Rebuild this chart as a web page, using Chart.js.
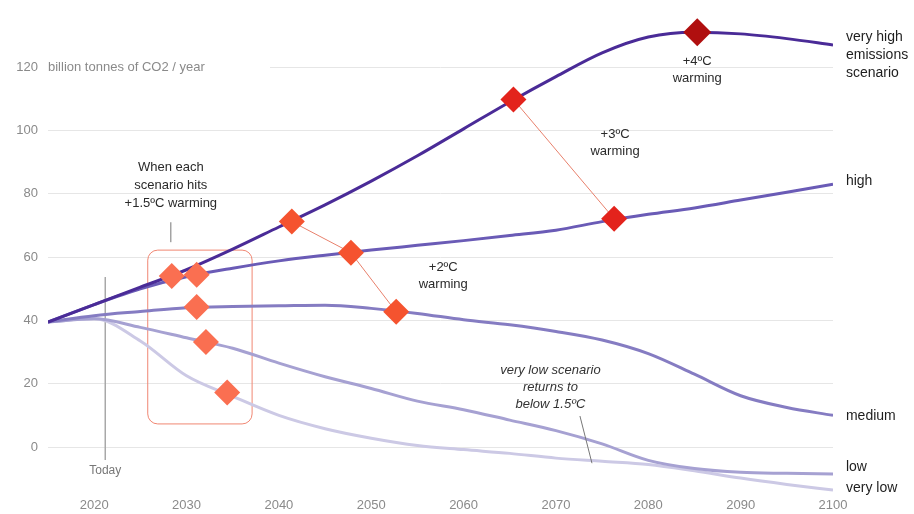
<!DOCTYPE html>
<html>
<head>
<meta charset="utf-8">
<script src="https://cdn.jsdelivr.net/npm/chart.js@4.4.1/dist/chart.umd.min.js"></script>
<style>
  html, body { margin: 0; padding: 0; background: #fff; }
  #wrap { width: 914px; height: 514px; }
</style>
</head>
<body>
<div id="wrap"><canvas id="co2-chart" width="914" height="514"></canvas></div>
<script>
// years for every scenario curve
const years = [2015, 2020, 2025, 2030, 2035, 2040, 2045, 2050, 2055, 2060, 2065, 2070, 2075, 2080, 2085, 2090, 2095, 2100];

// billion tonnes of CO2 / year
const veryHigh = [39.5, 45, 50.5, 56, 62.5, 69.5, 76.5, 84, 92, 100.5, 109, 117, 124.5, 129.5, 131, 130.5, 129, 127];
const high     = [39.5, 45, 50, 53.8, 56.5, 58.8, 60.6, 62.2, 63.7, 65.2, 66.8, 68.5, 71.2, 73.5, 75.5, 78, 80.5, 83];
const medium   = [39.5, 41.5, 42.8, 44, 44.4, 44.6, 44.8, 43.8, 42.2, 40.2, 38.6, 36.5, 33.8, 29.5, 23, 16.2, 12.5, 10];
const low      = [39.5, 40.5, 37.8, 34.5, 31.2, 26.5, 22.2, 18.5, 14.5, 11.8, 8.5, 5.2, 1, -4.2, -6.8, -8, -8.3, -8.5];
const veryLow  = [39.5, 40.5, 33.5, 22.5, 16, 10, 5.8, 2.8, 0.5, -0.8, -2, -3.5, -4.5, -5.5, -7.5, -9.8, -11.8, -13.6];

// when each scenario hits a warming level
const hit15Years = [2028.4, 2031.1, 2031.1, 2032.1, 2034.4];
const hit15Values = [54, 54.4, 44.2, 33.2, 17.2];
const hit2Years = [2041.4, 2047.8, 2052.7];
const hit2Values = [71.2, 61.4, 42.7];
const hit3Years = [2065.4, 2076.3];
const hit3Values = [109.8, 72.1];
const hit4Years = [2085.3];
const hit4Values = [131];

const xTicks = [2020, 2030, 2040, 2050, 2060, 2070, 2080, 2090, 2100];
const yTicks = [0, 20, 40, 60, 80, 100, 120];

const FONT = '"Liberation Sans", Arial, Helvetica, sans-serif';

function pts(xs, ys) {
    return xs.map((x, i) => ({ x: x, y: ys[i] }));
}

function scenario(label, values, color, order) {
    return {
        label: label,
        data: pts(years, values),
        borderColor: color,
        borderWidth: 3,
        pointRadius: 0,
        fill: false,
        cubicInterpolationMode: 'monotone',
        order: order
    };
}

function diamonds(label, xs, ys, color, r) {
    return {
        label: label,
        data: pts(xs, ys),
        showLine: false,
        pointStyle: 'rectRot',
        pointRadius: r,
        pointBackgroundColor: color,
        pointBorderWidth: 0,
        order: 0
    };
}

function connector(xs, ys) {
    return {
        label: 'link',
        data: pts(xs, ys),
        borderColor: '#e8806c',
        borderWidth: 1,
        pointRadius: 0,
        tension: 0,
        order: 1
    };
}

// text and notes drawn around the plot
const notesPlugin = {
    id: 'notes',
    beforeDatasetsDraw(chart) {
        const ctx = chart.ctx;
        const x = chart.scales.x, y = chart.scales.y;
        ctx.save();
        // box around the 1.5C diamonds
        const bx0 = x.getPixelForValue(2025.8), bx1 = x.getPixelForValue(2037.1);
        const by0 = y.getPixelForValue(62.2), by1 = y.getPixelForValue(7.3);
        ctx.strokeStyle = '#f08672';
        ctx.lineWidth = 1;
        ctx.beginPath();
        ctx.roundRect(bx0, by0, bx1 - bx0, by1 - by0, 10);
        ctx.stroke();
        // today line
        ctx.strokeStyle = '#a8a8a8';
        ctx.lineWidth = 1.5;
        const tx = x.getPixelForValue(2021.2);
        ctx.beginPath();
        ctx.moveTo(tx, y.getPixelForValue(53.7));
        ctx.lineTo(tx, y.getPixelForValue(-4.1));
        ctx.stroke();
        ctx.restore();
    },
    afterDraw(chart) {
        const ctx = chart.ctx;
        const x = chart.scales.x, y = chart.scales.y;
        const area = chart.chartArea;
        ctx.save();

        // unit label sitting on the 120 gridline
        ctx.font = '13px ' + FONT;
        ctx.fillStyle = '#fff';
        ctx.fillRect(area.left - 4, y.getPixelForValue(120) - 10, 226, 20);
        ctx.fillStyle = '#8a8a8a';
        ctx.textAlign = 'left';
        ctx.textBaseline = 'middle';
        ctx.fillText('billion tonnes of CO2 / year', area.left, y.getPixelForValue(120));

        function block(lines, yr, val, step, font, color, align) {
            ctx.font = font;
            ctx.fillStyle = color;
            ctx.textAlign = align || 'center';
            ctx.textBaseline = 'middle';
            const px = x.getPixelForValue(yr);
            const py = y.getPixelForValue(val);
            lines.forEach((t, i) => ctx.fillText(t, px, py + i * step));
        }

        const note = '13px ' + FONT;
        block(['When each', 'scenario hits', '+1.5ºC warming'], 2028.3, 88.4, 18, note, '#2a2a2a');
        block(['+2ºC', 'warming'], 2057.8, 56.8, 17, note, '#2a2a2a');
        block(['+3ºC', 'warming'], 2076.4, 98.8, 17, note, '#2a2a2a');
        block(['+4ºC', 'warming'], 2085.3, 121.9, 17, note, '#2a2a2a');
        block(['very low scenario', 'returns to', 'below 1.5ºC'], 2069.4, 24.3, 17, 'italic 13px ' + FONT, '#333');
        block(['Today'], 2021.2, -7.6, 0, '12px ' + FONT, '#777');

        // small pointer lines
        ctx.strokeStyle = '#777';
        ctx.lineWidth = 1;
        ctx.beginPath();
        ctx.moveTo(x.getPixelForValue(2028.3), y.getPixelForValue(71));
        ctx.lineTo(x.getPixelForValue(2028.3), y.getPixelForValue(64.7));
        ctx.moveTo(x.getPixelForValue(2072.6), y.getPixelForValue(9.8));
        ctx.lineTo(x.getPixelForValue(2073.9), y.getPixelForValue(-5.1));
        ctx.stroke();

        // scenario names at the right end
        const lab = '14px ' + FONT;
        block(['very high', 'emissions', 'scenario'], 2101.4, 129.5, 18, lab, '#1e1e1e', 'left');
        block(['high'], 2101.4, 84, 0, lab, '#1e1e1e', 'left');
        block(['medium'], 2101.4, 9.8, 0, lab, '#1e1e1e', 'left');
        block(['low'], 2101.4, -6.3, 0, lab, '#1e1e1e', 'left');
        block(['very low'], 2101.4, -12.9, 0, lab, '#1e1e1e', 'left');
        ctx.restore();
    }
};

function createChart() {
    const ctx = document.getElementById('co2-chart').getContext('2d');
    new Chart(ctx, {
        type: 'line',
        data: {
            datasets: [
                diamonds('+4C', hit4Years, hit4Values, '#b00f0f', 14),
                diamonds('+3C', hit3Years, hit3Values, '#e3231c', 13),
                diamonds('+2C', hit2Years, hit2Values, '#f5532f', 13),
                diamonds('+1.5C', hit15Years, hit15Values, '#fa6f51', 13),
                connector(hit2Years, hit2Values),
                connector(hit3Years, hit3Values),
                scenario('very high', veryHigh, '#4a2b97', 2),
                scenario('high', high, '#6a5bb6', 3),
                scenario('medium', medium, '#857cc2', 4),
                scenario('low', low, '#a6a1d2', 5),
                scenario('very low', veryLow, '#ccc9e5', 6)
            ]
        },
        options: {
            responsive: false,
            animation: false,
            layout: { autoPadding: false, padding: { left: 0, right: 81, top: 0, bottom: 0 } },
            plugins: {
                legend: { display: false },
                tooltip: { enabled: false }
            },
            scales: {
                x: {
                    type: 'linear',
                    min: 2015,
                    max: 2100,
                    afterBuildTicks: s => { s.ticks = xTicks.map(v => ({ value: v })); },
                    afterFit: s => {
                        s.height = 22;
                        s.paddingLeft = 0; s.paddingRight = 0;
                        s.paddingTop = 0; s.paddingBottom = 0;
                    },
                    grid: { display: false, drawTicks: false },
                    border: { display: false },
                    ticks: {
                        padding: 6,
                        color: '#8a8a8a',
                        font: { family: FONT, size: 13 },
                        callback: v => String(v)
                    }
                },
                y: {
                    min: -14.2,
                    max: 141.2,
                    afterBuildTicks: s => { s.ticks = yTicks.map(v => ({ value: v })); },
                    afterFit: s => {
                        s.width = 48;
                        s.paddingTop = 0; s.paddingBottom = 0;
                        s.paddingLeft = 0; s.paddingRight = 0;
                    },
                    grid: { color: '#e6e6e6', lineWidth: 1, drawTicks: false },
                    border: { display: false },
                    ticks: {
                        padding: 10,
                        color: '#8a8a8a',
                        font: { family: FONT, size: 13 },
                        callback: v => String(v)
                    }
                }
            }
        },
        plugins: [notesPlugin]
    });
}

createChart();
</script>
</body>
</html>
